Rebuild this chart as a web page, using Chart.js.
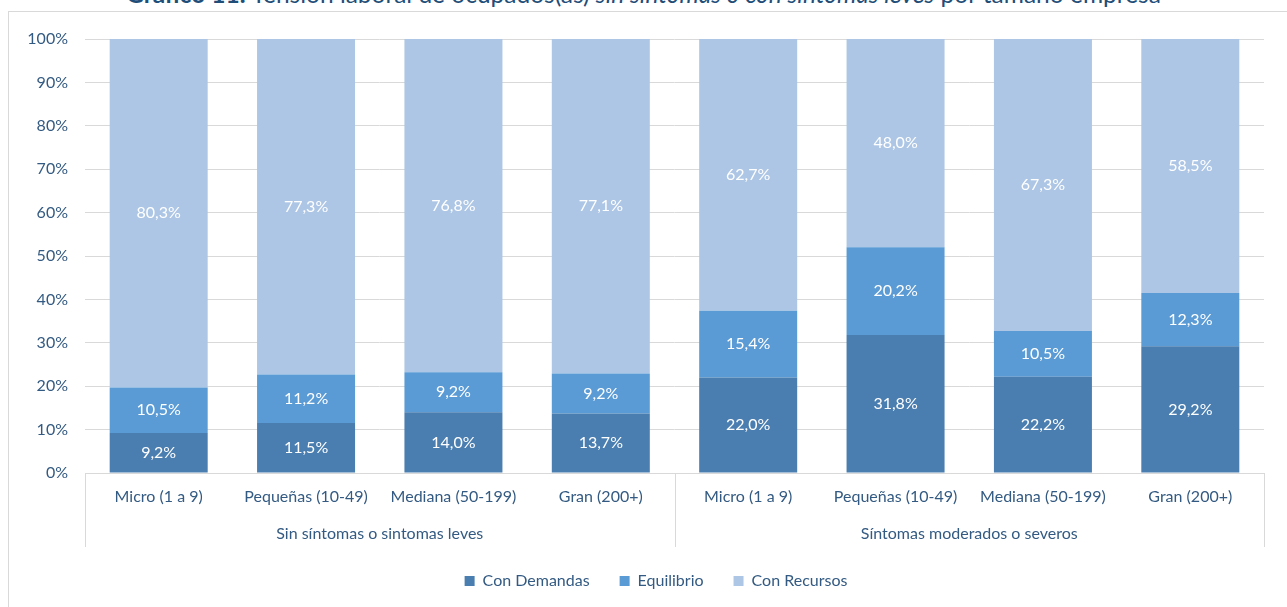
<!DOCTYPE html>
<html>
<head>
<meta charset="utf-8">
<script src="https://cdn.jsdelivr.net/npm/chart.js@4"></script>
<style>
  html, body { margin: 0; padding: 0; background: #fff; overflow: hidden; }
  #wrap { position: relative; width: 1287px; height: 607px; }
  #title {
    position: absolute; left: 0; top: -19px; width: 1287px; text-align: center; line-height: 26px;
    font-family: Lato, sans-serif; font-size: 24.5px; color: #1F4E79; white-space: nowrap;
  }
  #frame {
    position: absolute; left: 8px; top: 11px; width: 1300px; height: 620px;
    border: 1px solid #d9d9d9; box-sizing: border-box;
  }
  canvas { position: absolute; left: 0; top: 0; }
</style>
</head>
<body>
<div id="wrap">
  <div id="frame"></div>
  <div id="title"><b>Gráfico 11:</b> Tensión laboral de ocupados(as) <i>sin síntomas o con síntomas leves</i> por tamaño empresa</div>
  <canvas id="chart" width="1287" height="607"></canvas>
</div>
<script>
// Datos del gráfico
const categorias = ['Micro (1 a 9)', 'Pequeñas (10-49)', 'Mediana (50-199)', 'Gran (200+)',
                    'Micro (1 a 9)', 'Pequeñas (10-49)', 'Mediana (50-199)', 'Gran (200+)'];
const grupos = ['Sin síntomas o sintomas leves', 'Síntomas moderados o severos'];
const conDemandas = [9.2, 11.5, 14.0, 13.7, 22.0, 31.8, 22.2, 29.2];
const equilibrio = [10.5, 11.2, 9.2, 9.2, 15.4, 20.2, 10.5, 12.3];
const conRecursos = [80.3, 77.3, 76.8, 77.1, 62.7, 48.0, 67.3, 58.5];
const ticksY = [0, 10, 20, 30, 40, 50, 60, 70, 80, 90, 100];

const colorTexto = '#335A82';
const colorLinea = '#d9d9d9';
const fuente = 'Lato, sans-serif';
const tamFuente = 16;

// Etiquetas de valor dentro de cada segmento
const etiquetasValor = {
  id: 'etiquetasValor',
  afterDatasetsDraw(chart) {
    const ctx = chart.ctx;
    ctx.save();
    ctx.font = tamFuente + 'px ' + fuente;
    ctx.fillStyle = '#ffffff';
    ctx.textAlign = 'center';
    ctx.textBaseline = 'middle';
    chart.data.datasets.forEach((ds, i) => {
      chart.getDatasetMeta(i).data.forEach((bar, j) => {
        const y = (bar.y + bar.base) / 2;
        ctx.fillText(ds.data[j].toFixed(1).replace('.', ',') + '%', bar.x, y);
      });
    });
    ctx.restore();
  }
};

// Eje de categorías con dos niveles
const ejeGrupos = {
  id: 'ejeGrupos',
  beforeDraw(chart) {
    // la leyenda del original queda centrada en el marco, algo a la derecha
    if (chart.legend && !chart.legend._movida) {
      chart.legend.left += 24;
      chart.legend.right += 24;
      chart.legend._movida = true;
    }
  },
  afterDraw(chart) {
    const ctx = chart.ctx;
    const x = chart.scales.x;
    const area = chart.chartArea;
    const mitad = (x.getPixelForValue(3) + x.getPixelForValue(4)) / 2;
    const yBase = area.bottom;
    const yFin = yBase + 74;
    ctx.save();
    ctx.strokeStyle = colorLinea;
    ctx.lineWidth = 1;
    [area.left, mitad, area.right].forEach(px => {
      ctx.beginPath();
      ctx.moveTo(Math.round(px) + 0.5, yBase);
      ctx.lineTo(Math.round(px) + 0.5, yFin);
      ctx.stroke();
    });
    ctx.font = tamFuente + 'px ' + fuente;
    ctx.fillStyle = colorTexto;
    ctx.textAlign = 'center';
    ctx.textBaseline = 'middle';
    ctx.fillText(grupos[0], (area.left + mitad) / 2, yBase + 61);
    ctx.fillText(grupos[1], (mitad + area.right) / 2, yBase + 61);
    ctx.restore();
  }
};

new Chart(document.getElementById('chart'), {
  type: 'bar',
  data: {
    labels: categorias,
    datasets: [
      { label: 'Con Demandas', data: conDemandas, backgroundColor: '#4A7EB0' },
      { label: 'Equilibrio', data: equilibrio, backgroundColor: '#5B9BD5' },
      { label: 'Con Recursos', data: conRecursos, backgroundColor: '#ADC6E5' }
    ]
  },
  options: {
    responsive: false,
    animation: false,
    layout: { padding: { left: 0, right: 23, top: 39, bottom: 8 } },
    datasets: { bar: { barPercentage: 0.665, categoryPercentage: 1.0, borderWidth: 0 } },
    scales: {
      x: {
        stacked: true,
        grid: { display: false },
        border: { display: true, color: colorLinea },
        ticks: { color: colorTexto, font: { family: fuente, size: tamFuente }, padding: 6, maxRotation: 0 },
        afterFit(scale) { scale.height = 70; }
      },
      y: {
        stacked: true,
        min: 0, max: 100,
        afterBuildTicks(scale) { scale.ticks = ticksY.map(v => ({ value: v })); },
        grid: { color: colorLinea, drawTicks: false },
        border: { display: false },
        ticks: {
          color: colorTexto, font: { family: fuente, size: tamFuente }, padding: 17,
          callback: v => v + '%'
        },
        afterFit(scale) { scale.width = 85; }
      }
    },
    plugins: {
      legend: {
        position: 'bottom',
        labels: { color: colorTexto, font: { family: fuente, size: tamFuente }, boxWidth: 10, boxHeight: 10, padding: 30 }
      },
      tooltip: { enabled: false }
    }
  },
  plugins: [etiquetasValor, ejeGrupos]
});
</script>
</body>
</html>
